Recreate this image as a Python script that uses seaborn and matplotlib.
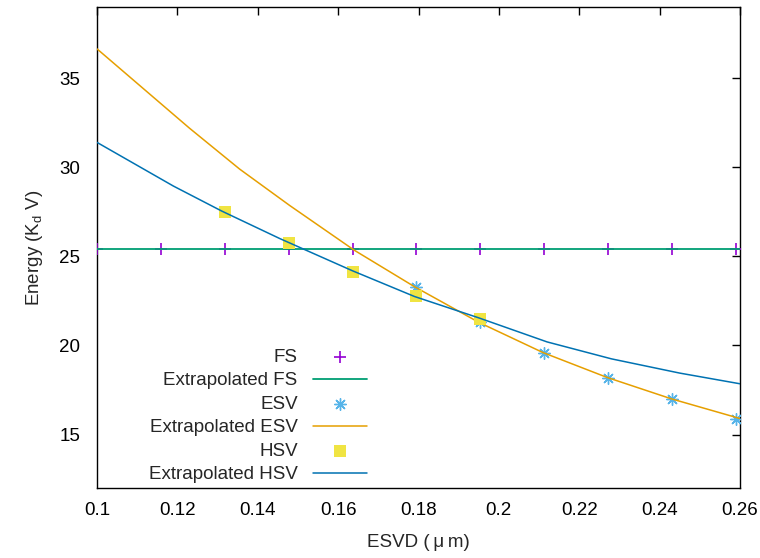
import matplotlib
matplotlib.use("Agg")
import matplotlib.pyplot as plt
import seaborn as sns
import pandas as pd

# ---- data ----
fs_x = [0.1000, 0.1159, 0.1318, 0.1477, 0.1636, 0.1795, 0.1954, 0.2113, 0.2272, 0.2431, 0.2590]
fs_y = [25.4, 25.4, 25.4, 25.4, 25.4, 25.4, 25.4, 25.4, 25.4, 25.4, 25.4]

esv_x = [0.1795, 0.1954, 0.2113, 0.2272, 0.2431, 0.2590]
esv_y = [23.3, 21.3, 19.6, 18.2, 17.0, 15.9]

hsv_x = [0.1318, 0.1477, 0.1636, 0.1795, 0.1954]
hsv_y = [27.5, 25.75, 24.1, 22.75, 21.5]

fit_fs_x = [0.10, 0.26]
fit_fs_y = [25.4, 25.4]

fit_esv_x = [0.100, 0.123, 0.1355, 0.148, 0.164, 0.179, 0.195, 0.211, 0.227, 0.243, 0.260]
fit_esv_y = [36.65, 32.2, 29.9, 27.85, 25.35, 23.3, 21.3, 19.6, 18.2, 17.0, 15.9]

fit_hsv_x = [0.100, 0.119, 0.131, 0.1455, 0.1525, 0.1635, 0.179, 0.195, 0.212, 0.228, 0.245, 0.260]
fit_hsv_y = [31.4, 28.95, 27.55, 26.0, 25.3, 24.2, 22.75, 21.55, 20.2, 19.25, 18.45, 17.85]

x_ticks = [0.10, 0.12, 0.14, 0.16, 0.18, 0.20, 0.22, 0.24, 0.26]
x_tick_labels = ["0.1", "0.12", "0.14", "0.16", "0.18", "0.2", "0.22", "0.24", "0.26"]
y_ticks = [15, 20, 25, 30, 35]
y_tick_labels = ["15", "20", "25", "30", "35"]

labels = ["FS", "Extrapolated FS", "ESV", "Extrapolated ESV", "HSV", "Extrapolated HSV"]
colors = ["#9400d3", "#009e73", "#56b4e9", "#e69f00", "#f0e442", "#0072b2"]

sns.set_style("white")
plt.rcParams["font.family"] = ["Liberation Sans", "DejaVu Sans"]
plt.rcParams["mathtext.fontset"] = "custom"
plt.rcParams["mathtext.rm"] = "Liberation Sans"
plt.rcParams["mathtext.it"] = "Liberation Sans"

FS = 13.5

fig = plt.figure(figsize=(7.6, 5.58), dpi=100)
ax = fig.add_axes([97 / 760, 1 - 488 / 558, (740 - 97) / 760, (488 - 7) / 558])

sns.scatterplot(x=fs_x, y=fs_y, ax=ax, marker="+", s=80, color=colors[0],
                linewidth=1.2, label=labels[0], zorder=3)
sns.lineplot(x=fit_fs_x, y=fit_fs_y, ax=ax, color=colors[1], linewidth=1.3,
             sort=False, estimator=None, label=labels[1], zorder=4)
sns.scatterplot(x=esv_x, y=esv_y, ax=ax, marker=(8, 2, 0), s=70, color=colors[2],
                linewidth=1.0, label=labels[2], zorder=5)
sns.lineplot(x=fit_esv_x, y=fit_esv_y, ax=ax, color=colors[3], linewidth=1.1,
             sort=False, estimator=None, label=labels[3], zorder=6)
sns.scatterplot(x=hsv_x, y=hsv_y, ax=ax, marker="s", s=75, color=colors[4],
                linewidth=0, label=labels[4], zorder=7)
sns.lineplot(x=fit_hsv_x, y=fit_hsv_y, ax=ax, color=colors[5], linewidth=1.1,
             sort=False, estimator=None, label=labels[5], zorder=8)

ax.set_xlim(0.10, 0.26)
ax.set_ylim(12, 39)
ax.set_xticks(x_ticks, x_tick_labels)
ax.set_yticks(y_ticks, y_tick_labels)
ax.tick_params(direction="in", top=True, right=True, length=6, width=1.0,
               labelsize=FS, colors="black")
ax.tick_params(axis="x", pad=10)
ax.tick_params(axis="y", pad=12)
for sp in ax.spines.values():
    sp.set_color("black")
    sp.set_linewidth(1.0)

ax.set_xlabel("ESVD (\u2009\u03bc\u2009m)", fontsize=FS, labelpad=11)
ax.set_ylabel(r"Energy (K$_{\rm d}$ V)", fontsize=FS, labelpad=10)

ax.legend(loc="lower right", bbox_to_anchor=(0.42, 0.01), frameon=False,
          markerfirst=False, fontsize=FS, handlelength=2.9, handletextpad=0.8,
          labelspacing=0.34, borderpad=0, borderaxespad=0)

fig.savefig("out.png", dpi=100)
